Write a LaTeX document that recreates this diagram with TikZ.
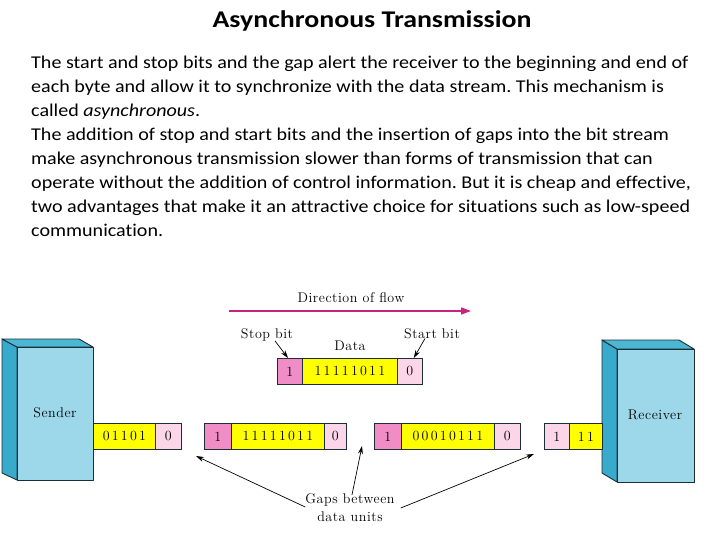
\documentclass[tikz,border=0pt]{standalone}
\usepackage{fontspec}
\setmainfont{Carlito}[Ligatures=NoCommon]
\newfontfamily\diagfont{Latin Modern Roman}[LetterSpace=4]
\newfontfamily\digitfont{Latin Modern Roman}[LetterSpace=16]
\usetikzlibrary{arrows.meta}
\frenchspacing
\definecolor{sidecol}{HTML}{38AACB}
\definecolor{frontcol}{HTML}{9CD8E9}
\definecolor{topcol}{HTML}{4BB7D3}
\definecolor{edgecol}{HTML}{1E2E38}
\definecolor{stoppink}{HTML}{F08DC6}
\definecolor{startpink}{HTML}{FBD5E8}
\definecolor{datayel}{HTML}{FFFF00}
\definecolor{flowcol}{HTML}{C8247E}
\newcommand{\bodyline}[1]{\scalebox{1.115}[1]{#1}}
\tikzset{
  bodytext/.style={anchor=base west, inner sep=0pt, font=\fontsize{18bp}{22bp}\selectfont},
  cell/.style={draw=edgecol, line width=0.8pt, anchor=north west, inner sep=0pt,
     minimum height=26bp, font=\digitfont\fontsize{14bp}{16bp}\selectfont},
  stopcell/.style={cell, fill=stoppink},
  startcell/.style={cell, fill=startpink},
  datacell/.style={cell, fill=datayel},
  lbl/.style={inner sep=0pt, font=\diagfont\fontsize{14bp}{17bp}\selectfont},
  ptr/.style={-{Stealth[length=8bp,width=5bp]}, line width=0.7pt, black},
  face/.style={draw=edgecol, line width=0.9pt, line join=round},
}
\begin{document}
\begin{tikzpicture}[x=1bp,y=-1bp]
\useasboundingbox (0,0) rectangle (720,540);
% Title
\node[anchor=base, inner sep=0pt, font=\bfseries\fontsize{24bp}{26bp}\selectfont] (title) at (372,28) {\scalebox{1.16}[1]{Asynchronous Transmission}};
% Body text
\node[bodytext] (l1) at (31,69) {\bodyline{The start and stop bits and the gap alert the receiver to the beginning and end of}};
\node[bodytext] (l2) at (31,93) {\bodyline{each byte and allow it to synchronize with the data stream. This mechanism is}};
\node[bodytext] (l3) at (31,117) {\bodyline{called \textit{asynchronous}.}};
\node[bodytext] (l4) at (31,141) {\bodyline{The addition of stop and start bits and the insertion of gaps into the bit stream}};
\node[bodytext] (l5) at (31,165) {\bodyline{make asynchronous transmission slower than forms of transmission that can}};
\node[bodytext] (l6) at (31,189) {\bodyline{operate without the addition of control information. But it is cheap and effective,}};
\node[bodytext] (l7) at (31,213) {\bodyline{two advantages that make it an attractive choice for situations such as low-speed}};
\node[bodytext] (l8) at (31,237) {\bodyline{communication.}};

% Direction of flow
\node[lbl, anchor=base] (flowlbl) at (351,302) {Direction of flow};
\coordinate (flowL) at (229,311);
\coordinate (flowR) at (471,311);
\draw[flowcol, line width=1.6pt, -{Triangle[length=10bp,width=7bp]}] (flowL) -- (flowR);

% Top frame
\node[stopcell, minimum width=25bp] (t1) at (277,358) {1};
\node[datacell, minimum width=95bp] (t2) at (302,358) {11111011};
\node[startcell, minimum width=25bp] (t3) at (397,358) {0};
\node[lbl, anchor=base] (stoplbl) at (267,338) {Stop bit};
\node[lbl, anchor=base] (datalbl) at (350,350) {Data};
\node[lbl, anchor=base] (startlbl) at (432,338) {Start bit};
\draw[ptr] ([xshift=8bp]stoplbl.south) -- ([xshift=11bp]t1.north west);
\draw[ptr] ([xshift=-7bp]startlbl.south) -- ([xshift=-9bp]t3.north east);

% Sender
\draw[face, fill=sidecol] (2,339) -- (17,347) -- (17,480) -- (2,473) -- cycle;
\draw[face, fill=topcol] (2,339) -- (79,339) -- (93,347) -- (17,347) -- cycle;
\node[face, fill=frontcol, anchor=north west, minimum width=76bp, minimum height=133bp, inner sep=0pt] (sender) at (17,347) {};
\node[lbl] (senderlbl) at (55,413) {Sender};

% Receiver
\draw[face, fill=sidecol] (602,340) -- (617,349) -- (617,482) -- (602,473) -- cycle;
\draw[face, fill=topcol] (602,340) -- (679,340) -- (694,349) -- (617,349) -- cycle;
\node[face, fill=frontcol, anchor=north west, minimum width=77bp, minimum height=133bp, inner sep=0pt] (receiver) at (617,349) {};
\node[lbl] (receiverlbl) at (655,415) {Receiver};

% Stream row
\node[datacell, minimum width=62bp] (s1) at (93,423) {01101};
\node[startcell, minimum width=26bp] (s2) at (155,423) {0};
\node[stopcell, minimum width=27bp] (a1) at (204,423) {1};
\node[datacell, minimum width=93bp] (a2) at (231,423) {11111011};
\node[startcell, minimum width=22bp] (a3) at (324,423) {0};
\node[stopcell, minimum width=27bp] (b1) at (374,423) {1};
\node[datacell, minimum width=93bp] (b2) at (401,423) {00010111};
\node[startcell, minimum width=26bp] (b3) at (494,423) {0};
\node[startcell, minimum width=25bp] (r1) at (544,423) {1};
\node[datacell, minimum width=33bp] (r2) at (569,423) {11};

% Gaps
\node[lbl, align=center, font=\diagfont\fontsize{14bp}{18bp}\selectfont] (gaps) at (350,508) {Gaps between\\data units};
\coordinate (gap1) at (196,456);
\coordinate (gap2) at (362,446);
\coordinate (gap3) at (534,454);
\draw[ptr] ([yshift=1bp]gaps.west) -- (gap1);
\draw[ptr] ([xshift=2bp,yshift=-1bp]gaps.north) -- (gap2);
\draw[ptr] ([xshift=6bp]gaps.east) -- (gap3);
\end{tikzpicture}
\end{document}
